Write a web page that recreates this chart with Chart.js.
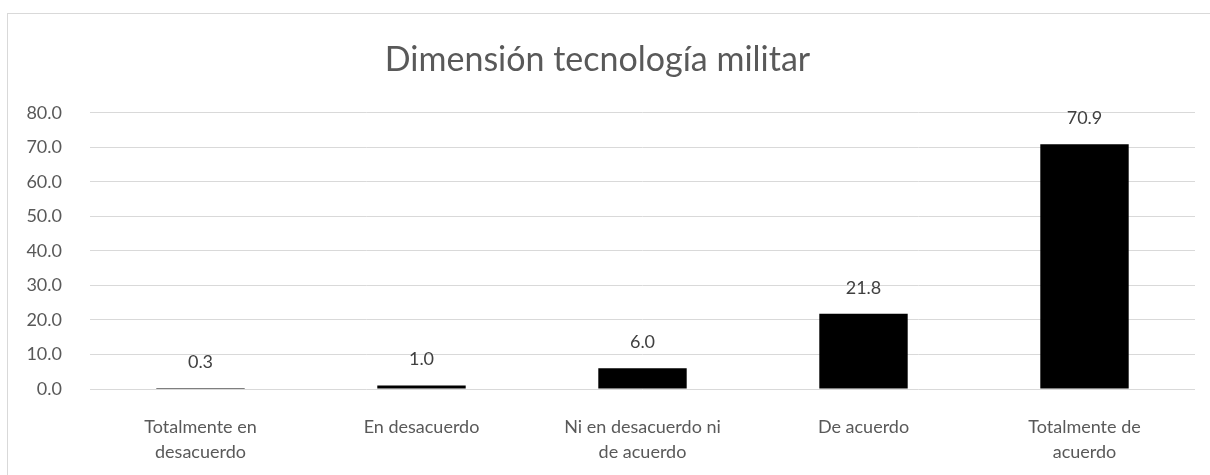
<!DOCTYPE html>
<html>
<head>
<meta charset="utf-8">
<script src="https://cdn.jsdelivr.net/npm/chart.js@4.4.0/dist/chart.umd.min.js"></script>
<style>
  html, body { margin: 0; padding: 0; background: #fff; overflow: hidden; }
  .frame { position: absolute; left: 7px; top: 13px; width: 1230px; height: 490px; border: 1px solid #d9d9d9; }
  .wrap { position: absolute; left: 0; top: 0; width: 1210px; height: 475px; }
</style>
</head>
<body>
<div class="frame"></div>
<div class="wrap"><canvas id="chart"></canvas></div>
<script>
// Dimensión tecnología militar - porcentajes por categoría
const categories = [
    ['Totalmente en', 'desacuerdo'],
    'En desacuerdo',
    ['Ni en desacuerdo ni', 'de acuerdo'],
    'De acuerdo',
    ['Totalmente de', 'acuerdo']
];
const values = [0.3, 1.0, 6.0, 21.8, 70.9];
const yTicks = [0, 10, 20, 30, 40, 50, 60, 70, 80];

const FONT = 'Lato, "Open Sans", sans-serif';
const GREY = '#595959';

// draws the value above each bar
const barLabels = {
    id: 'barLabels',
    afterDatasetsDraw(chart) {
        const ctx = chart.ctx;
        const meta = chart.getDatasetMeta(0);
        ctx.save();
        ctx.font = '18px ' + FONT;
        ctx.fillStyle = '#404040';
        ctx.textAlign = 'center';
        ctx.textBaseline = 'middle';
        meta.data.forEach((bar, i) => {
            ctx.fillText(values[i].toFixed(1), bar.x, bar.y - 26);
        });
        ctx.restore();
    }
};

new Chart(document.getElementById('chart'), {
    type: 'bar',
    data: {
        labels: categories,
        datasets: [{
            data: values,
            backgroundColor: '#000',
            borderWidth: 0,
            barPercentage: 0.4,
            categoryPercentage: 1
        }]
    },
    options: {
        responsive: true,
        maintainAspectRatio: false,
        animation: false,
        layout: { padding: { left: 0, right: 15, top: 0, bottom: 0 } },
        plugins: {
            legend: { display: false },
            tooltip: { enabled: false },
            title: {
                display: true,
                text: 'Dimensión tecnología militar',
                color: GREY,
                font: { family: FONT, size: 34, weight: 'normal', lineHeight: 1.2 },
                padding: { top: 40, bottom: 32 }
            }
        },
        scales: {
            x: {
                grid: { display: false, drawTicks: false },
                border: { display: false },
                ticks: {
                    color: GREY,
                    font: { family: FONT, size: 18, lineHeight: 1.39 },
                    padding: 26,
                    maxRotation: 0,
                    autoSkip: false
                },
                afterFit(scale) { scale.height = 86; }
            },
            y: {
                min: 0,
                max: 80,
                afterBuildTicks(scale) { scale.ticks = yTicks.map(v => ({ value: v })); },
                grid: { color: '#d9d9d9', lineWidth: 1, drawTicks: false },
                border: { display: false },
                ticks: {
                    color: GREY,
                    font: { family: FONT, size: 18 },
                    padding: 28,
                    callback: v => Number(v).toFixed(1)
                },
                afterFit(scale) { scale.width = 90; }
            }
        }
    },
    plugins: [barLabels]
});
</script>
</body>
</html>
